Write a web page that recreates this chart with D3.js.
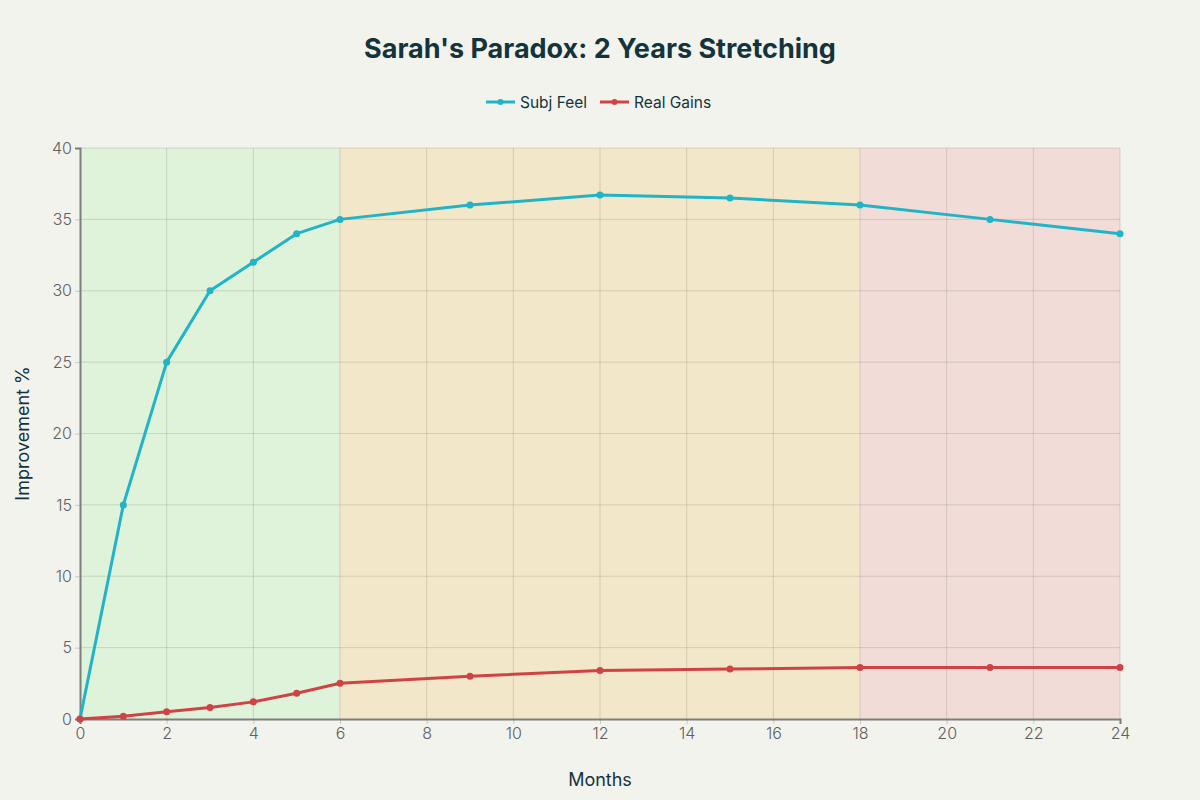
<!DOCTYPE html>
<html>
<head>
<meta charset="utf-8">
<script src="https://cdn.jsdelivr.net/npm/d3@7"></script>
<style>
  body { margin: 0; background: #f3f3ee; }
  svg { display: block; font-family: Inter, "Open Sans", sans-serif; }
</style>
</head>
<body>
<svg id="chart"></svg>
<script>
// data
const months = [0, 1, 2, 3, 4, 5, 6, 9, 12, 15, 18, 21, 24];
const subjFeel = [0, 15, 25, 30, 32, 34, 35, 36, 36.7, 36.5, 36, 35, 34];
const realGains = [0, 0.2, 0.5, 0.8, 1.2, 1.8, 2.5, 3.0, 3.4, 3.5, 3.6, 3.6, 3.6];
const phaseStart = [0, 6, 18];
const phaseEnd = [6, 18, 24];
const xTicks = [0, 2, 4, 6, 8, 10, 12, 14, 16, 18, 20, 22, 24];
const yTicks = [0, 5, 10, 15, 20, 25, 30, 35, 40];

const phaseColors = ["#dff2da", "#f3e7c9", "#f2dcd8"];

const width = 1200, height = 800;
const margin = {top: 148, right: 80, bottom: 81, left: 80};

const svg = d3.select("#chart")
    .attr("width", width)
    .attr("height", height);

const x = d3.scaleLinear()
    .domain([0, 24])
    .range([margin.left, width - margin.right]);

const y = d3.scaleLinear()
    .domain([0, 40])
    .range([height - margin.bottom, margin.top]);

// phase bands
svg.selectAll("rect.phase")
    .data(phaseStart)
    .enter()
    .append("rect")
    .attr("class", "phase")
    .attr("x", d => x(d))
    .attr("y", y(40))
    .attr("width", (d, i) => x(phaseEnd[i]) - x(d))
    .attr("height", y(0) - y(40))
    .attr("fill", (d, i) => phaseColors[i]);

// grid
svg.append("g")
    .selectAll("line")
    .data(yTicks.slice(1))
    .enter()
    .append("line")
    .attr("x1", x(0)).attr("x2", x(24))
    .attr("y1", d => y(d)).attr("y2", d => y(d))
    .attr("stroke", "rgba(110,110,100,0.22)")
    .attr("stroke-width", 1);

svg.append("g")
    .selectAll("line")
    .data(xTicks.slice(1))
    .enter()
    .append("line")
    .attr("x1", d => x(d)).attr("x2", d => x(d))
    .attr("y1", y(0)).attr("y2", y(40))
    .attr("stroke", "rgba(110,110,100,0.22)")
    .attr("stroke-width", 1);

// axes
const xAxis = svg.append("g")
    .attr("transform", "translate(0," + y(0) + ")")
    .call(d3.axisBottom(x).tickValues(xTicks).tickSize(5).tickPadding(4));

const yAxis = svg.append("g")
    .attr("transform", "translate(" + x(0) + ",0)")
    .call(d3.axisLeft(y).tickValues(yTicks).tickSize(5).tickPadding(3));

[xAxis, yAxis].forEach(a => {
  a.select(".domain").attr("stroke", "#7d7f7c").attr("stroke-width", 2);
  a.selectAll(".tick line").attr("stroke", "rgba(110,110,100,0.3)");
  a.selectAll(".tick text")
      .attr("fill", "#606060")
      .style("font-size", "16px")
      .style("font-weight", "300")
      .style("font-family", "Inter, sans-serif");
});

// lines
const series = [
  {name: "Subj Feel", values: subjFeel, color: "#21b4c6"},
  {name: "Real Gains", values: realGains, color: "#d04344"}
];

const line = d3.line()
    .x((d, i) => x(months[i]))
    .y(d => y(d));

series.forEach(s => {
  svg.append("path")
      .datum(s.values)
      .attr("d", line)
      .attr("fill", "none")
      .attr("stroke", s.color)
      .attr("stroke-width", 3)
      .attr("stroke-linejoin", "round");

  svg.append("g")
      .selectAll("circle")
      .data(s.values)
      .enter()
      .append("circle")
      .attr("cx", (d, i) => x(months[i]))
      .attr("cy", d => y(d))
      .attr("r", 3.5)
      .attr("fill", s.color);
});

// title
svg.append("text")
    .attr("x", width / 2)
    .attr("y", 58)
    .attr("text-anchor", "middle")
    .attr("fill", "#13343b")
    .style("font-size", "27px")
    .style("font-weight", "700")
    .text("Sarah's Paradox: 2 Years Stretching");

// legend
const legend = svg.append("g").attr("transform", "translate(486,102)");
const legendX = [0, 114];
series.forEach((s, i) => {
  const g = legend.append("g").attr("transform", "translate(" + legendX[i] + ",0)");
  g.append("line")
      .attr("x1", 0).attr("x2", 29)
      .attr("stroke", s.color).attr("stroke-width", 3);
  g.append("circle").attr("cx", 14.5).attr("r", 3).attr("fill", s.color);
  g.append("text")
      .attr("x", 34).attr("y", 5.5)
      .attr("fill", "#13343b")
      .style("font-size", "15.5px")
      .text(s.name);
});

// axis titles
svg.append("text")
    .attr("x", width / 2)
    .attr("y", 786)
    .attr("text-anchor", "middle")
    .attr("fill", "#13343b")
    .style("font-size", "18px")
    .text("Months");

svg.append("text")
    .attr("transform", "translate(29," + ((y(0) + y(40)) / 2) + ") rotate(-90)")
    .attr("text-anchor", "middle")
    .attr("fill", "#13343b")
    .style("font-size", "18px")
    .text("Improvement %");
</script>
</body>
</html>
